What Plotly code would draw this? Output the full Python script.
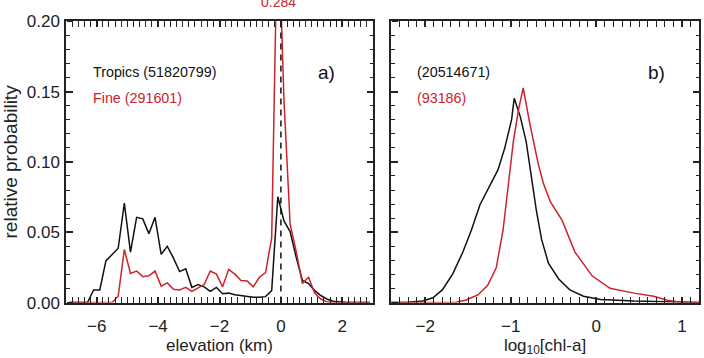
import plotly.graph_objects as go

# ---------------- data ----------------
# panel a: elevation bins (km)
elev = [-6.9, -6.7, -6.5, -6.3, -6.1, -5.9, -5.7, -5.5, -5.3, -5.1,
        -4.9, -4.7, -4.5, -4.3, -4.1, -3.9, -3.7, -3.5, -3.3, -3.1,
        -2.9, -2.7, -2.5, -2.3, -2.1, -1.9, -1.7, -1.5, -1.3, -1.1,
        -0.9, -0.7, -0.5, -0.3, -0.1, 0.1, 0.3, 0.5, 0.7, 0.9,
        1.1, 1.3, 1.5, 1.7, 1.9, 2.1, 2.3, 2.5, 2.7, 2.9]
tropics_elev = [0, 0, 0, 0, 0.009, 0.009, 0.0296, 0.034, 0.0386, 0.0707,
                0.0359, 0.0606, 0.0595, 0.049, 0.0606, 0.0343, 0.040, 0.0316, 0.022, 0.024,
                0.0108, 0.0128, 0.0112, 0.0079, 0.0108, 0.0063, 0.0067, 0.0056, 0.005, 0.0045,
                0.0038, 0.0038, 0.0042, 0.0085, 0.0752, 0.058, 0.0505, 0.032, 0.0157, 0.0135,
                0.0085, 0.005, 0.0025, 0.001, 0.0004, 0.0002, 0, 0, 0, 0]
fine_elev = [0, 0, 0, 0, 0, 0, 0, 0, 0.0045, 0.0377,
             0.0207, 0.0224, 0.0184, 0.019, 0.0224, 0.0117, 0.014, 0.0094, 0.009, 0.0108,
             0.0079, 0.0101, 0.0128, 0.0224, 0.0202, 0.0112, 0.0236, 0.0202, 0.0157, 0.0153,
             0.0112, 0.018, 0.0213, 0.046, 0.284, 0.144, 0.056, 0.036, 0.0135, 0.018,
             0.0067, 0.0025, 0.0005, 0, 0, 0, 0, 0, 0, 0]

# panel b: log10 chl-a
chl_trop_x = [-2.4, -2.2, -2.03, -1.91, -1.80, -1.68, -1.56, -1.46, -1.36, -1.25,
              -1.15, -1.07, -0.99, -0.96, -0.89, -0.82, -0.75, -0.70, -0.64, -0.56,
              -0.44, -0.31, -0.15, 0.05, 0.44, 0.83, 1.0, 1.2]
chl_trop_y = [0, 0.0003, 0.0011, 0.0034, 0.009, 0.0202, 0.0359, 0.0516, 0.0696, 0.083,
              0.0943, 0.11, 0.1302, 0.1453, 0.1324, 0.1145, 0.085, 0.0651, 0.0449, 0.028,
              0.0168, 0.009, 0.0045, 0.0022, 0.0011, 0.0005, 0.0002, 0]
chl_fine_x = [-2.4, -1.64, -1.52, -1.38, -1.27, -1.17, -1.09, -1.03, -0.97, -0.91,
              -0.855, -0.78, -0.68, -0.62, -0.54, -0.40, -0.25, -0.05, 0.16, 0.44,
              0.67, 0.83, 0.99, 1.2]
chl_fine_y = [0, 0.0003, 0.0018, 0.0056, 0.0123, 0.0247, 0.0516, 0.0853, 0.1145, 0.137,
              0.1526, 0.128, 0.0988, 0.085, 0.072, 0.0584, 0.0359, 0.019, 0.0101, 0.0067,
              0.0045, 0.0016, 0.0003, 0]

RED = "#cc2229"
BLK = "#111111"
AX = "#222222"
FONT = "Liberation Sans, Arial, Helvetica, sans-serif"
W, H = 704, 358


def px(x):
    return x / W


def py(y):
    return 1 - y / H


fig = go.Figure()
fig.add_trace(go.Scatter(x=elev, y=tropics_elev, mode="lines",
                         line=dict(color=BLK, width=1.5), xaxis="x", yaxis="y",
                         showlegend=False))
fig.add_trace(go.Scatter(x=elev, y=fine_elev, mode="lines",
                         line=dict(color=RED, width=1.5), xaxis="x", yaxis="y",
                         showlegend=False))
fig.add_trace(go.Scatter(x=chl_trop_x, y=chl_trop_y, mode="lines",
                         line=dict(color=BLK, width=1.5), xaxis="x2", yaxis="y2",
                         showlegend=False))
fig.add_trace(go.Scatter(x=chl_fine_x, y=chl_fine_y, mode="lines",
                         line=dict(color=RED, width=1.5), xaxis="x2", yaxis="y2",
                         showlegend=False))
# dashed line at 0 elevation
fig.add_trace(go.Scatter(x=[0, 0], y=[0, 0.2], mode="lines",
                         line=dict(color=BLK, width=1.5, dash="6px,5px"),
                         xaxis="x", yaxis="y", showlegend=False))


def minor(dt, side="inside"):
    return dict(ticks=side, ticklen=3, dtick=dt, tick0=0,
                tickcolor=AX, tickwidth=1.2)


def ax():
    return dict(showgrid=False, zeroline=False, showline=True, linecolor=AX,
                linewidth=1.5, mirror="allticks", ticks="inside", ticklen=6,
                tickwidth=1.5, tickcolor=AX,
                tickfont=dict(family=FONT, size=17, color=AX))


def helper(over, xpos):
    # free right-side axis sitting on a panel's left edge; its outside ticks point inward
    return dict(overlaying=over, anchor="free", position=xpos, side="right",
                range=[0, 0.2], tick0=0, dtick=0.05, showticklabels=False,
                showgrid=False, zeroline=False, showline=False,
                ticks="outside", ticklen=6, tickwidth=1.5, tickcolor=AX,
                minor=minor(0.01, "outside"))


yd = [py(310), py(13)]
fig.update_layout(
    width=W, height=H,
    margin=dict(l=0, r=0, t=0, b=0),
    paper_bgcolor="white", plot_bgcolor="white",
    font=dict(family=FONT, color=AX),
    xaxis=dict(domain=[px(66), px(373)], range=[-7, 3], tick0=0, dtick=2,
               anchor="y", minor=minor(0.2), ticklabelstandoff=7,
               title=dict(text="elevation (km)", font=dict(family=FONT, size=17),
                          standoff=2),
               **ax()),
    yaxis=dict(domain=yd, range=[0, 0.2], tick0=0, dtick=0.05, tickformat=".2f",
               anchor="x", minor=minor(0.01), ticklabelstandoff=1,
               title=dict(text="relative probability", font=dict(family=FONT, size=19),
                          standoff=4),
               **ax()),
    xaxis2=dict(domain=[px(391), px(699)], range=[-2.4, 1.2], tick0=0, dtick=1,
                anchor="y2", minor=minor(0.1), ticklabelstandoff=7,
                title=dict(text="log<sub>10</sub>[chl-a]", font=dict(family=FONT, size=17),
                           standoff=2),
                **ax()),
    yaxis2=dict(domain=yd, range=[0, 0.2], tick0=0, dtick=0.05, ticklabelstandoff=1,
                showticklabels=False, anchor="x2", minor=minor(0.01),
                **ax()),
    yaxis3=helper("y", px(66)),
    yaxis4=helper("y2", px(391)),
)
# invisible traces to activate the helper axes
fig.add_trace(go.Scatter(x=[elev[0]], y=[fine_elev[0]], mode="lines", xaxis="x", yaxis="y3",
                         showlegend=False, hoverinfo="skip", line=dict(width=0)))
fig.add_trace(go.Scatter(x=[chl_fine_x[0]], y=[chl_fine_y[0]], mode="lines", xaxis="x2",
                         yaxis="y4", showlegend=False, hoverinfo="skip", line=dict(width=0)))


def note(x, y, text, color, size, xanchor="left"):
    fig.add_annotation(x=px(x), y=py(y), xref="paper", yref="paper", text=text,
                       showarrow=False, xanchor=xanchor, yanchor="middle",
                       font=dict(family=FONT, size=size, color=color))


note(91, 67, "Tropics (51820799)", BLK, 14.3)
note(91, 94, "Fine (291601)", RED, 14.3)
note(326, 67, "a)", BLK, 19, "center")
note(415, 67, "(20514671)", BLK, 14.3)
note(415, 94, "(93186)", RED, 14.3)
note(656, 67, "b)", BLK, 19, "center")
note(278, -7, "0.284", RED, 14, "center")

fig.write_html("out.html")
